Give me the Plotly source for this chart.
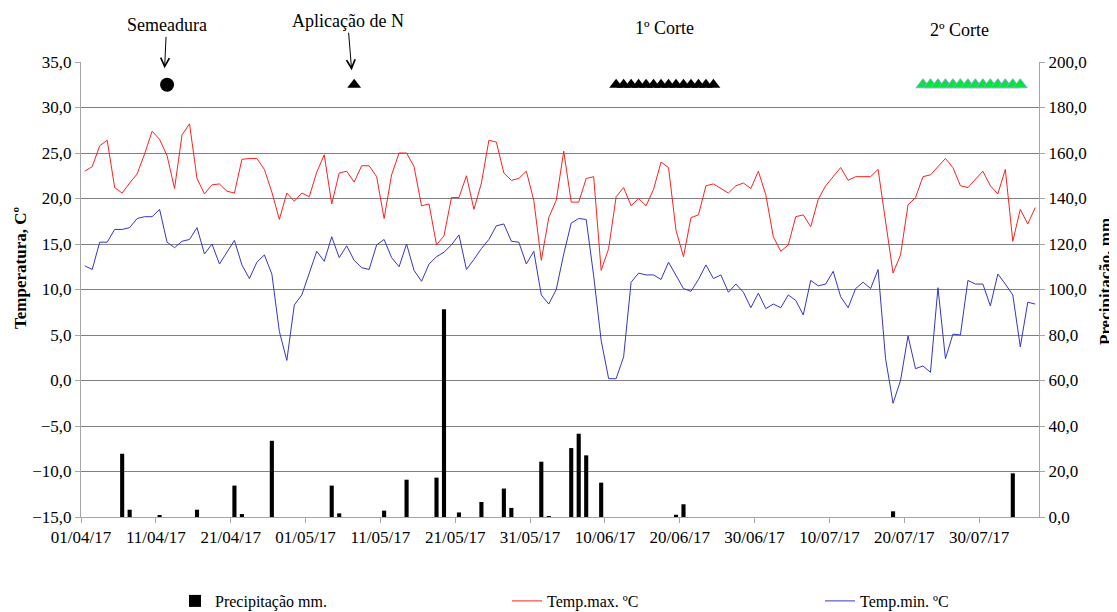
import plotly.graph_objects as go
import pandas as pd

# ---------------- data ----------------
start_date = "2017-04-01"
n_days = 128
dates = pd.date_range(start_date, periods=n_days, freq="D")

temp_max = [23.0, 23.5, 25.8, 26.4, 21.2, 20.6, 21.7, 22.7, 24.9, 27.4,
            26.5, 24.7, 21.1, 27.0, 28.2, 22.2, 20.5, 21.5, 21.6, 20.8,
            20.6, 24.3, 24.4, 24.4, 23.2, 20.7, 17.7, 20.6, 19.7, 20.6,
            20.2, 22.9, 24.8, 19.4, 22.8, 23.0, 21.8, 23.6, 23.6, 22.4,
            17.8, 22.6, 25.0, 25.0, 23.5, 19.2, 19.4, 14.9, 15.9, 20.1,
            20.1, 22.5, 18.8, 21.7, 26.4, 26.2, 22.8, 22.0, 22.2, 23.0,
            19.8, 13.2, 17.9, 19.8, 25.2, 19.6, 19.6, 22.2, 22.4, 12.1,
            14.5, 20.2, 21.2, 19.2, 20.0, 19.2, 21.0, 24.0, 23.4, 16.5,
            13.6, 17.9, 18.2, 21.4, 21.6, 21.1, 20.6, 21.4, 21.7, 21.1,
            23.0, 20.4, 15.8, 14.2, 14.9, 18.0, 18.2, 16.9, 19.9, 21.4,
            22.4, 23.4, 22.0, 22.4, 22.4, 22.4, 23.2, 17.4, 11.8, 13.8,
            19.3, 20.1, 22.4, 22.6, 23.5, 24.4, 23.4, 21.4, 21.2, 22.1,
            23.0, 21.4, 20.5, 23.2, 15.3, 18.8, 17.2, 19.0]

temp_min = [12.6, 12.2, 15.2, 15.2, 16.6, 16.6, 16.8, 17.8, 18.0, 18.0,
            18.8, 15.2, 14.6, 15.3, 15.5, 16.8, 13.9, 15.0, 12.8, 14.1,
            15.4, 12.7, 11.2, 13.0, 13.8, 11.7, 5.4, 2.2, 8.3, 9.4,
            11.7, 14.2, 13.1, 15.8, 13.5, 14.8, 13.2, 12.4, 12.2, 14.9,
            15.5, 13.5, 12.5, 15.0, 12.1, 10.9, 12.8, 13.6, 14.1, 14.9,
            16.0, 12.2, 13.3, 14.5, 15.5, 17.0, 17.2, 15.3, 15.2, 12.8,
            14.2, 9.4, 8.4, 10.0, 13.9, 17.3, 17.8, 17.7, 11.5, 4.4,
            0.2, 0.2, 2.6, 10.8, 11.8, 11.6, 11.6, 11.1, 13.0, 11.6,
            10.1, 9.8, 11.1, 12.7, 11.2, 11.6, 9.7, 10.6, 9.7, 8.0,
            9.6, 7.9, 8.4, 8.0, 9.4, 8.8, 7.2, 11.0, 10.4, 10.6,
            12.0, 9.2, 8.0, 10.1, 10.8, 10.1, 12.2, 2.4, -2.5, 0.0,
            4.9, 1.3, 1.6, 0.9, 10.2, 2.4, 5.1, 5.0, 11.0, 10.6,
            10.6, 8.2, 11.7, 10.6, 9.4, 3.7, 8.6, 8.4]

rain_dates = ["2017-04-06", "2017-04-07", "2017-04-11", "2017-04-16", "2017-04-21",
              "2017-04-22", "2017-04-26", "2017-05-04", "2017-05-05", "2017-05-11",
              "2017-05-14", "2017-05-18", "2017-05-19", "2017-05-21", "2017-05-24",
              "2017-05-27", "2017-05-28", "2017-06-01", "2017-06-02", "2017-06-05",
              "2017-06-06", "2017-06-07", "2017-06-09", "2017-06-19", "2017-06-20",
              "2017-07-18", "2017-08-03"]
rain_mm = [27.8, 3.2, 0.6, 3.2, 13.8,
           1.3, 33.5, 13.8, 1.6, 2.8,
           16.4, 17.3, 91.3, 2.0, 6.6,
           12.5, 4.0, 24.3, 0.3, 30.3,
           36.6, 27.1, 15.1, 1.0, 5.6,
           2.5, 19.2]

tick_dates = ["2017-04-01", "2017-04-11", "2017-04-21", "2017-05-01", "2017-05-11",
              "2017-05-21", "2017-05-31", "2017-06-10", "2017-06-20", "2017-06-30",
              "2017-07-10", "2017-07-20", "2017-07-30"]
tick_labels = ["01/04/17", "11/04/17", "21/04/17", "01/05/17", "11/05/17",
               "21/05/17", "31/05/17", "10/06/17", "20/06/17", "30/06/17",
               "10/07/17", "20/07/17", "30/07/17"]

semeadura_date = ["2017-04-12"]
aplicacao_date = ["2017-05-07"]
corte1_dates = pd.date_range("2017-06-11", "2017-06-24", freq="D")
corte2_dates = pd.date_range("2017-07-22", "2017-08-04", freq="D")
event_level = 32.5

# ---------------- figure ----------------
SERIF = "Liberation Serif"
half_day = pd.Timedelta(hours=12)
axis_grey = "#a6a6a6"
W, H = 1109, 604   # page adds an 8px body margin

fig = go.Figure()

fig.add_trace(go.Bar(
    x=pd.to_datetime(rain_dates), y=rain_mm, yaxis="y2",
    name="Precipitação mm.", marker=dict(color="black", line=dict(width=0)),
    width=0.55 * 86400000, legend="legend",
))
fig.add_trace(go.Scatter(
    x=dates, y=temp_max, mode="lines", name="Temp.max. ºC",
    line=dict(color="#ff2020", width=1), legend="legend2",
))
fig.add_trace(go.Scatter(
    x=dates, y=temp_min, mode="lines", name="Temp.min. ºC",
    line=dict(color="#3535c8", width=1), legend="legend3",
))

# event markers
fig.add_trace(go.Scatter(
    x=pd.to_datetime(semeadura_date), y=[event_level], mode="markers",
    marker=dict(symbol="circle", size=14, color="black"), showlegend=False,
))
fig.add_trace(go.Scatter(
    x=pd.to_datetime(aplicacao_date), y=[event_level], mode="markers",
    marker=dict(symbol="triangle-up", size=12, color="black"), showlegend=False,
))
fig.add_trace(go.Scatter(
    x=corte1_dates, y=[event_level] * len(corte1_dates), mode="markers",
    marker=dict(symbol="triangle-up", size=12, color="black"), showlegend=False,
))
fig.add_trace(go.Scatter(
    x=corte2_dates, y=[event_level] * len(corte2_dates), mode="markers",
    marker=dict(symbol="triangle-up", size=12, color="#00e63c",
                line=dict(color="#8ea4d2", width=1)), showlegend=False,
))

tickvals = [pd.Timestamp(d) - half_day for d in tick_dates]

legend_common = dict(xref="container", yref="container", y=(H - 593) / H,
                     xanchor="left", yanchor="middle", orientation="h",
                     font=dict(family=SERIF, size=16, color="black"),
                     bgcolor="rgba(0,0,0,0)")

fig.update_layout(
    width=W, height=H,
    margin=dict(l=73, r=78, t=54, b=95, autoexpand=False),
    paper_bgcolor="white", plot_bgcolor="white",
    separators=",.",
    font=dict(family=SERIF, color="black", size=17),
    xaxis=dict(
        type="date",
        range=[dates[0] - half_day, dates[-1] + half_day],
        tickmode="array", tickvals=tickvals, ticktext=tick_labels,
        ticks="outside", ticklen=5, tickcolor=axis_grey,
        showline=True, linecolor=axis_grey, linewidth=1,
        showgrid=False, zeroline=False, automargin=False,
        tickfont=dict(family=SERIF, size=17, color="black"),
    ),
    yaxis=dict(
        range=[-15, 35], tick0=-15, dtick=5, tickformat=".1f",
        showgrid=True, gridcolor="#808080", gridwidth=1,
        zeroline=False, showline=True, linecolor=axis_grey,
        ticks="outside", ticklen=5, tickcolor=axis_grey, automargin=False,
        tickfont=dict(family=SERIF, size=17, color="black"),
    ),
    yaxis2=dict(
        overlaying="y", side="right",
        range=[0, 200], tick0=0, dtick=20, tickformat=".1f",
        showgrid=False, zeroline=False, showline=True, linecolor=axis_grey,
        ticks="outside", ticklen=5, tickcolor=axis_grey, automargin=False,
        tickfont=dict(family=SERIF, size=17, color="black"),
    ),
    legend=dict(x=167 / W, **legend_common),
    legend2=dict(x=499 / W, **legend_common),
    legend3=dict(x=812 / W, **legend_common),
)

# axis titles
title_font = dict(family=SERIF, size=17, color="black")
fig.add_annotation(text="<b>Temperatura, Cº</b>", xref="paper", yref="paper",
                   x=0, y=(517 - 268) / 455, xshift=-61, textangle=-90,
                   xanchor="center", yanchor="middle",
                   showarrow=False, font=title_font)
fig.add_annotation(text="<b>Precipitação, mm</b>", xref="paper", yref="paper",
                   x=1, y=(517 - 282) / 455, xshift=66, textangle=-90,
                   xanchor="center", yanchor="middle",
                   showarrow=False, font=title_font)

ann_font = dict(family=SERIF, size=18, color="black")
fig.add_annotation(x=pd.Timestamp(semeadura_date[0]) - pd.Timedelta(hours=8), y=34.3,
                   xref="x", yref="y", text="Semeadura", showarrow=True,
                   ax=2, ay=-43, arrowhead=5, arrowsize=1.7, arrowwidth=1,
                   arrowcolor="black", font=ann_font)
fig.add_annotation(x=pd.Timestamp(aplicacao_date[0]) - pd.Timedelta(hours=8), y=34.1,
                   xref="x", yref="y", text="Aplicação de N", showarrow=True,
                   ax=-4, ay=-49, arrowhead=5, arrowsize=1.7, arrowwidth=1,
                   arrowcolor="black", font=ann_font)
fig.add_annotation(x=corte1_dates[0] + (corte1_dates[-1] - corte1_dates[0]) / 2,
                   y=(517 - 28) / 455, xref="x", yref="paper", text="1º Corte",
                   showarrow=False, font=ann_font, yanchor="middle")
fig.add_annotation(x=pd.Timestamp("2017-07-26 22:00"),
                   y=(517 - 30) / 455, xref="x", yref="paper", text="2º Corte",
                   showarrow=False, font=ann_font, yanchor="middle")

fig.write_html("out.html")
